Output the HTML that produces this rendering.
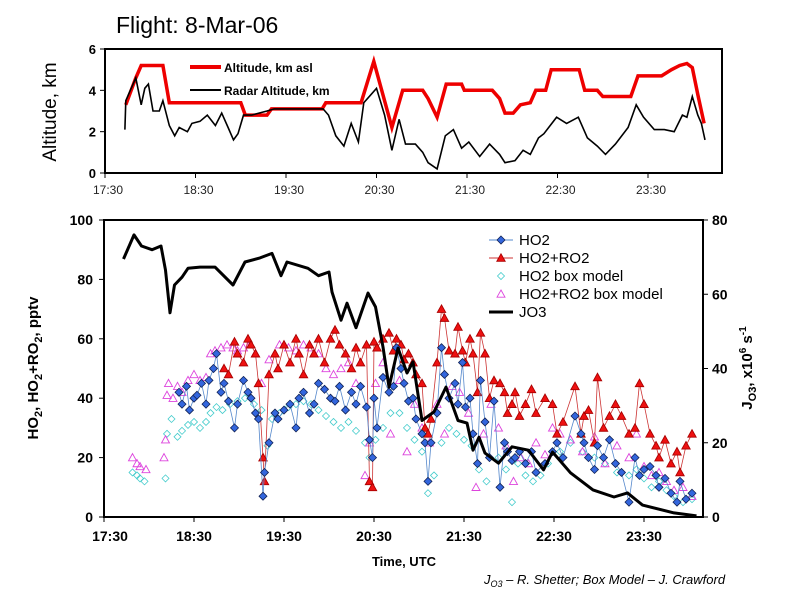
<!DOCTYPE html>
<html><head><meta charset="utf-8"><style>
html,body{margin:0;padding:0;background:#fff;}
svg{display:block;font-family:"Liberation Sans",sans-serif;}
</style></head><body>
<svg id="c" width="800" height="600" viewBox="0 0 800 600">
<rect width="800" height="600" fill="#fff"/>
<text x="116" y="33" font-size="23" fill="#000">Flight: 8-Mar-06</text>
<!-- top panel -->
<g id="top">
<rect x="105" y="49" width="617" height="124" fill="none" stroke="#000" stroke-width="2"/>
<text transform="translate(56,112) rotate(-90)" text-anchor="middle" font-size="19">Altitude, km</text>
<line x1="190" y1="67" x2="221" y2="67" stroke="#e00" stroke-width="4"/>
<text x="224" y="72" font-size="12" font-weight="bold">Altitude, km asl</text>
<line x1="190" y1="90" x2="221" y2="90" stroke="#000" stroke-width="2"/>
<text x="224" y="95" font-size="12" font-weight="bold">Radar Altitude, km</text>
</g>
<!-- bottom panel -->
<g id="bot">
<rect x="104" y="220" width="599" height="297" fill="none" stroke="#000" stroke-width="2"/>
<text transform="translate(38,368) rotate(-90)" text-anchor="middle" font-size="15" font-weight="bold">HO<tspan font-size="11" dy="4">2</tspan><tspan dy="-4">, HO</tspan><tspan font-size="11" dy="4">2</tspan><tspan dy="-4">+RO</tspan><tspan font-size="11" dy="4">2</tspan><tspan dy="-4">, pptv</tspan></text>
<text transform="translate(752,368) rotate(-90)" text-anchor="middle" font-size="15" font-weight="bold">J<tspan font-size="11" dy="4">O3</tspan><tspan dy="-4">, x10</tspan><tspan font-size="10" dy="-6">6</tspan><tspan dy="6"> s</tspan><tspan font-size="10" dy="-6">-1</tspan></text>
<text x="404" y="566" text-anchor="middle" font-size="13" font-weight="bold">Time, UTC</text>
<text x="484" y="584" font-size="13" font-style="italic">J<tspan font-size="9" dy="3">O3</tspan><tspan dy="-3"> – R. Shetter; Box Model – J. Crawford</tspan></text>
</g>
<g id="legend"></g>
</svg>
<script>
// ---------- top panel data (hours UTC, km) ----------
const altT=[17.73,17.84,17.90,18.14,18.21,19.00,19.05,19.29,19.34,19.90,19.94,20.33,20.47,20.67,20.79,21.01,21.07,21.17,21.27,21.44,21.47,21.78,21.86,21.92,22.01,22.09,22.20,22.26,22.37,22.43,22.74,22.80,22.94,23.00,23.31,23.39,23.65,23.76,23.85,23.93,23.99,24.05,24.12];
const altV=[3.3,4.6,5.2,5.2,3.4,3.4,2.8,2.8,3.1,3.1,3.4,3.4,5.4,2.2,4.0,4.0,3.6,2.7,4.3,4.3,4.0,4.0,3.6,2.9,2.9,3.3,3.4,4.0,4.0,5.0,5.0,4.0,4.0,3.7,3.7,4.7,4.7,5.0,5.2,5.3,5.1,3.8,2.4];
const radT=[17.72,17.73,17.78,17.84,17.90,17.94,17.98,18.03,18.10,18.14,18.21,18.27,18.32,18.41,18.46,18.55,18.63,18.72,18.79,18.86,18.92,18.97,19.03,19.12,19.29,19.37,19.91,19.97,20.05,20.14,20.22,20.30,20.36,20.50,20.59,20.67,20.75,20.82,20.93,21.01,21.07,21.17,21.26,21.35,21.44,21.52,21.64,21.75,21.86,21.92,22.03,22.12,22.20,22.29,22.35,22.49,22.60,22.73,22.83,22.94,23.03,23.14,23.28,23.37,23.45,23.57,23.68,23.79,23.88,23.93,23.99,24.05,24.09,24.13];
const radV=[2.1,3.5,4.0,4.6,3.3,4.1,4.3,3.0,3.0,3.5,2.3,1.8,2.2,2.0,2.4,2.5,2.8,2.3,2.9,2.2,1.6,1.9,2.8,2.8,3.0,3.1,3.1,2.8,1.8,1.3,2.4,1.5,3.4,4.1,2.8,1.1,2.6,1.4,1.4,1.0,0.5,0.2,1.8,2.1,1.2,1.5,0.8,1.4,0.9,0.5,0.6,1.1,0.9,1.7,1.9,2.7,2.4,2.7,1.7,1.3,0.9,1.4,2.2,3.3,2.7,2.1,2.1,2.0,2.8,2.7,3.7,2.8,2.4,1.6];
const topYTicks=[0,2,4,6];
const xTickLabels=["17:30","18:30","19:30","20:30","21:30","22:30","23:30"];
const xTickHours=[17.5,18.5,19.5,20.5,21.5,22.5,23.5];
// ---------- bottom panel data (minutes after 17:30, pptv) ----------
const ho2M=[50,52,55,57,60,62,65,68,70,73,75,78,80,83,87,89,93,96,98,101,103,106,107,110,114,116,120,124,128,130,133,137,140,143,147,151,154,157,161,165,168,171,175,177,179,180,182,186,190,193,195,198,200,203,206,208,212,214,216,218,222,225,227,230,234,236,239,241,244,246,249,251,254,257,260,264,267,269,272,274,277,281,285,288,294,299,302,306,314,318,320,323,327,329,333,337,341,345,350,354,357,360,364,368,370,374,378,382,384,388,392];
const ho2V=[42,38,44,36,40,41,45,38,46,50,55,42,45,39,30,38,46,42,40,35,33,7,15,25,35,33,36,38,30,40,42,35,38,45,43,40,39,44,36,42,38,44,37,26,20,40,30,47,42,44,57,50,45,39,40,33,28,25,12,25,35,57,48,40,45,38,52,37,40,28,18,46,32,20,39,10,25,22,19,20,22,18,22,15,18,22,25,20,34,28,25,20,16,24,20,26,18,15,5,20,14,16,17,14,10,13,8,5,12,6,8];
const sumV=[null,null,null,null,null,null,null,null,null,null,null,null,50,48,59,55,52,60,58,55,45,20,12,48,55,50,58,52,60,55,48,58,55,60,52,60,63,58,55,50,57,52,58,12,10,59,57,60,62,56,60,58,53,55,52,48,45,30,28,33,52,70,67,56,55,64,56,52,60,55,42,62,55,40,46,45,42,35,38,42,34,38,43,35,40,38,28,32,44,28,34,36,25,47,30,34,38,34,28,30,45,38,28,24,20,26,18,22,15,24,28];
const modM=[19,22,24,27,41,42,45,49,52,56,60,64,68,71,75,79,84,89,94,100,105,109,112,117,123,128,133,138,143,148,153,158,163,168,174,177,181,186,191,197,202,207,212,216,220,225,230,235,240,245,250,255,263,268,272,276,281,286,291,296,304,311,319,327,334,342,350,355,360,365,370,375,380,386,392];
const modV=[15,14,13,12,13,28,33,27,29,31,32,30,32,35,37,36,38,39,40,38,36,24,33,35,37,38,39,38,36,34,32,30,32,29,25,20,26,30,35,35,30,26,22,8,14,25,30,28,26,24,16,12,20,16,5,18,14,12,14,18,22,25,22,20,18,15,14,16,13,10,12,9,7,5,6];
const modSumM=[19,22,24,28,40,41,42,43,46,49,52,56,60,64,68,71,74,78,82,86,89,93,97,101,105,110,114,117,123,128,133,138,143,148,153,158,163,168,174,177,181,186,191,197,202,207,212,217,222,227,232,237,243,248,253,258,263,268,273,278,283,288,294,299,304,311,319,327,334,342,350,355,360,365,370,375,380,386,392];
const modSumV=[20,18,17,16,20,26,41,45,40,44,42,46,48,46,47,55,56,57,58,57,56,57,58,55,45,53,55,58,57,56,58,57,55,50,48,50,52,45,14,25,45,52,28,46,22,38,30,25,38,28,44,42,35,10,28,38,30,24,12,20,18,25,21,30,28,26,22,27,18,24,20,28,17,14,15,12,9,10,7];
const jo3M=[13,20,25,32,38,41,44,47,52,56,64,74,86,94,104,112,118,122,136,143,150,152,158,162,168,176,181,186,190,196,202,206,212,220,228,236,242,246,250,254,263,272,283,293,299,311,326,340,349,359,380,395];
const jo3V=[69.5,76,73,72,73,66.5,55,62.5,64.6,67,67.3,67.3,62.5,68.7,69.8,71,65,68.7,67,65,66,60.6,53,57.6,51,60.3,56.6,45.8,35,45.5,38.8,41.8,26,28.3,35,26,25.3,18,21.5,17.2,14.5,18.9,18,12.7,17.5,11.9,7.3,5.4,6.5,3.2,1.1,0.3];
const leftTicks=[0,20,40,60,80,100];
const rightTicks=[0,20,40,60,80];
const legendLabels=["HO2","HO2+RO2","HO2 box model","HO2+RO2 box model","JO3"];

const NS="http://www.w3.org/2000/svg";
const svg=document.getElementById('c');
function mk(tag,attrs,parent){const e=document.createElementNS(NS,tag);for(const k in attrs)e.setAttribute(k,attrs[k]);(parent||svg).appendChild(e);return e;}
// axes
const tx=h=>105+(h-17.5)*90.5, ty=v=>173-v*124/6;
const bx=m=>104+m*1.5, by=v=>517-v*2.97, byR=v=>517-v*297/80;

// top ticks
topYTicks.forEach(v=>{
  const l=mk('line',{x1:100,x2:105,y1:ty(v),y2:ty(v),stroke:'#000'});
  
  
  const t=mk('text',{x:96,y:ty(v)+5,'text-anchor':'end','font-size':13,'font-weight':'bold'});
  t.textContent=v;
  
  
});
xTickHours.forEach((h,i)=>{
  const l=mk('line',{x1:tx(h),x2:tx(h),y1:173,y2:178,stroke:'#000'});
  
  
  const t=mk('text',{x:tx(h)+3,y:194,'text-anchor':'middle','font-size':12,fill:'#222'});
  t.textContent=xTickLabels[i];
  
  
});
function poly(xs,ys,fx,fy,attrs,name){
  const pts=xs.map((x,i)=>ys[i]==null?null:fx(x).toFixed(1)+','+fy(ys[i]).toFixed(1)).filter(p=>p);
  const p=mk('polyline',Object.assign({points:pts.join(' '),fill:'none'},attrs));
  
  
  return p;
}
poly(altT,altV,tx,ty,{stroke:'#e00','stroke-width':3.5},'altitude-line');
poly(radT,radV,tx,ty,{stroke:'#000','stroke-width':1.6},'radar-altitude-line');

// bottom ticks
leftTicks.forEach(v=>{
  const l=mk('line',{x1:99,x2:104,y1:by(v),y2:by(v),stroke:'#000'});
  
  
  const t=mk('text',{x:93,y:by(v)+5,'text-anchor':'end','font-size':14,'font-weight':'bold'});
  t.textContent=v;
  
  
});
rightTicks.forEach(v=>{
  const l=mk('line',{x1:703,x2:708,y1:byR(v),y2:byR(v),stroke:'#000'});
  
  
  const t=mk('text',{x:712,y:byR(v)+5,'font-size':14,'font-weight':'bold'});
  t.textContent=v;
  
  
});
xTickHours.forEach((h,i)=>{
  const m=(h-17.5)*60;
  const l=mk('line',{x1:bx(m),x2:bx(m),y1:517,y2:522,stroke:'#000'});
  
  
  const t=mk('text',{x:bx(m)+(i===0?6:0),y:541,'text-anchor':'middle','font-size':14,'font-weight':'bold'});
  t.textContent=xTickLabels[i];
  
  
});
// series markers
function diamond(g,x,y,r,fill,stroke){return mk('polygon',{points:`${x},${y-r} ${x+r},${y} ${x},${y+r} ${x-r},${y}`,fill:fill,stroke:stroke,'stroke-width':0.8},g);}
function tri(g,x,y,r,fill,stroke){return mk('polygon',{points:`${x},${y-r} ${x+r},${y+r*0.8} ${x-r},${y+r*0.8}`,fill:fill,stroke:stroke,'stroke-width':0.9},g);}
const gMod=mk('g',{});
modM.forEach((m,i)=>{const d=diamond(gMod,bx(m),by(modV[i]),3.5,'none','#4cc');
  
  });
const gModS=mk('g',{});
modSumM.forEach((m,i)=>{const d=tri(gModS,bx(m),by(modSumV[i]),4,'none','#d4d');
  
  });
poly(ho2M,sumV,bx,by,{stroke:'#c33','stroke-width':0.8},'ho2-ro2-line');
const gSum=mk('g',{});
ho2M.forEach((m,i)=>{if(sumV[i]==null)return;const d=tri(gSum,bx(m),by(sumV[i]),4.2,'#e11','#a00');
  
  });
poly(ho2M,ho2V,bx,by,{stroke:'#58c','stroke-width':0.8},'ho2-line');
const gH=mk('g',{});
ho2M.forEach((m,i)=>{const d=diamond(gH,bx(m),by(ho2V[i]),4,'#36d','#125');
  
  });
poly(jo3M,jo3V,bx,byR,{stroke:'#000','stroke-width':3,'stroke-linejoin':'round'},'jo3-line');

// legend
const lg=document.getElementById('legend');
const rows=[240,258,276,294,312];
legendLabels.forEach((lab,i)=>{
  const y=rows[i];
  if(i===0){mk('line',{x1:489,x2:513,y1:y,y2:y,stroke:'#58c'},lg);diamond(lg,501,y,4,'#36d','#125');}
  if(i===1){mk('line',{x1:489,x2:513,y1:y,y2:y,stroke:'#c33'},lg);tri(lg,501,y,4.2,'#e11','#a00');}
  if(i===2){diamond(lg,501,y,3.5,'none','#4cc');}
  if(i===3){tri(lg,501,y,4,'none','#d4d');}
  if(i===4){mk('line',{x1:489,x2:513,y1:y,y2:y,stroke:'#000','stroke-width':3},lg);}
  const t=mk('text',{x:519,y:y+5,'font-size':15},lg);
  t.textContent=lab;
  
  
});
</script>
</body></html>
